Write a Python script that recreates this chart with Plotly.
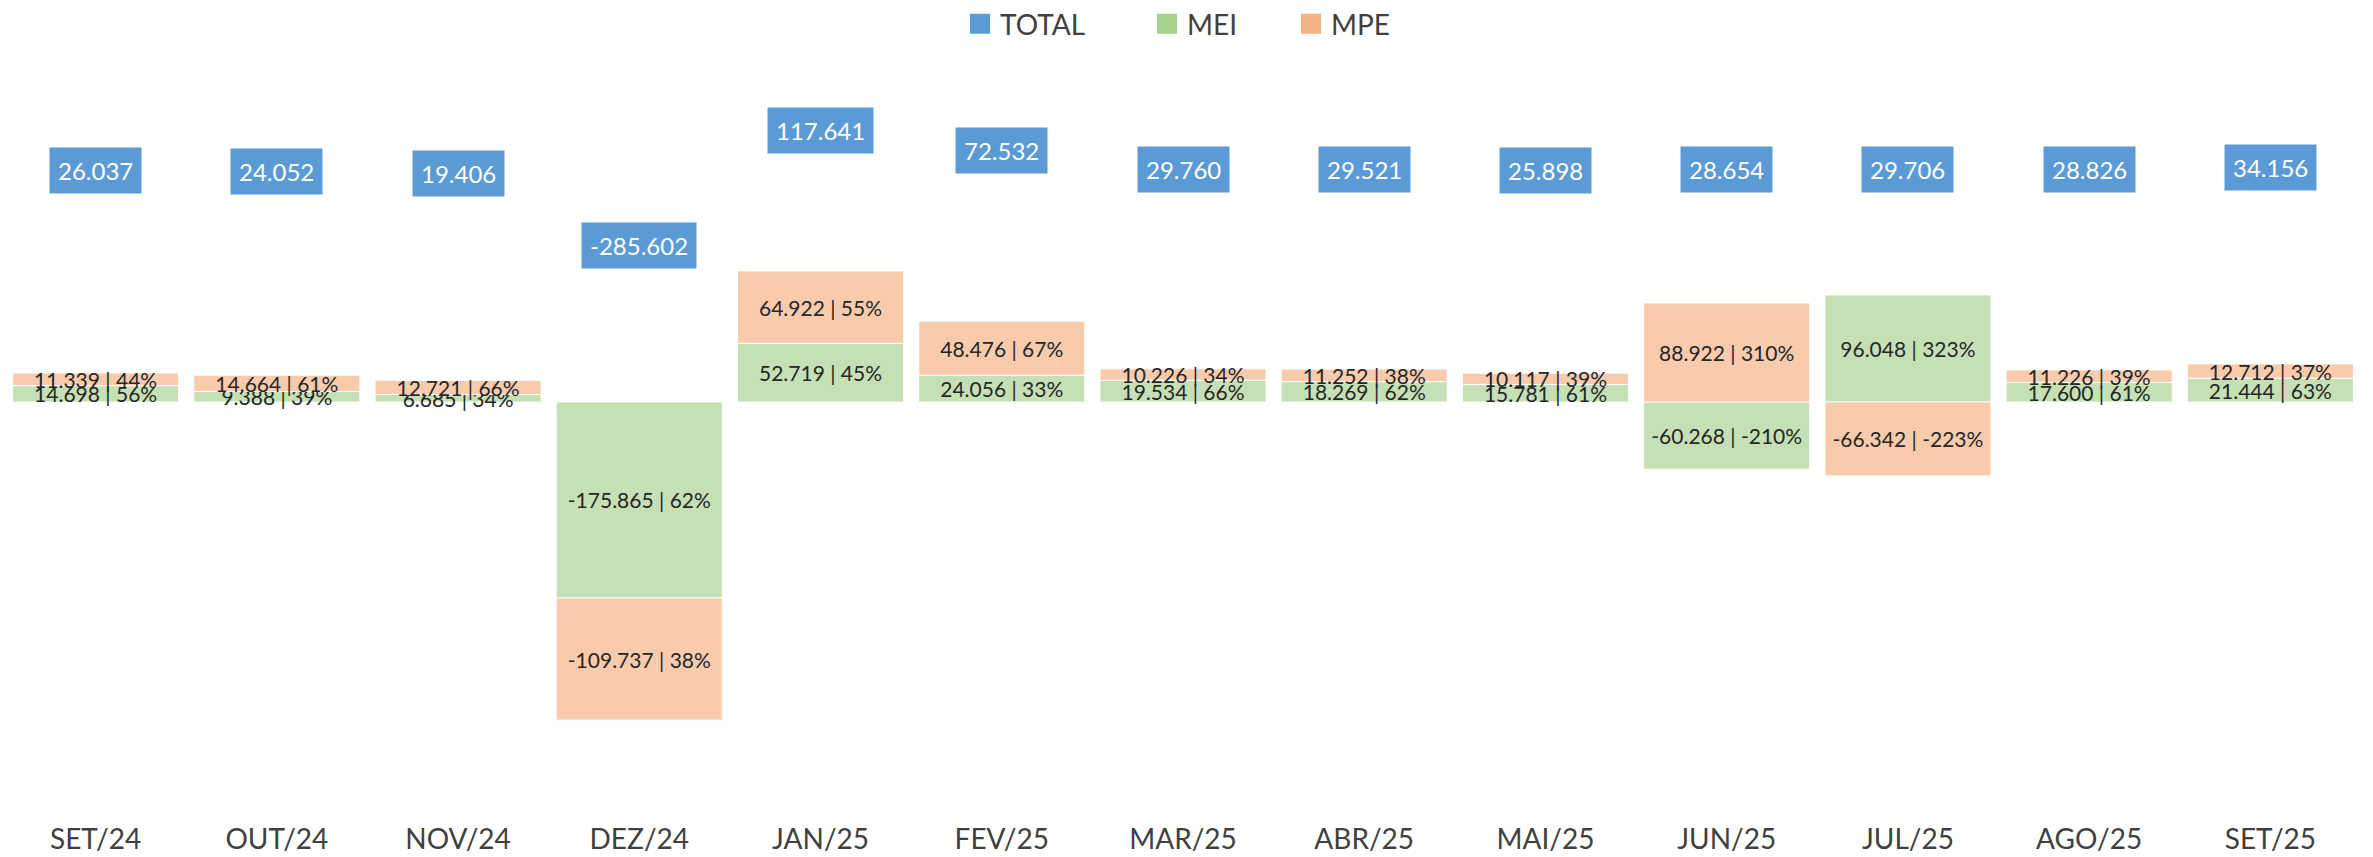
import plotly.graph_objects as go

categories = ["SET/24", "OUT/24", "NOV/24", "DEZ/24", "JAN/25", "FEV/25", "MAR/25",
              "ABR/25", "MAI/25", "JUN/25", "JUL/25", "AGO/25", "SET/25"]
total = [26037, 24052, 19406, -285602, 117641, 72532, 29760, 29521, 25898, 28654, 29706, 28826, 34156]
mei = [14698, 9388, 6685, -175865, 52719, 24056, 19534, 18269, 15781, -60268, 96048, 17600, 21444]
mpe = [11339, 14664, 12721, -109737, 64922, 48476, 10226, 11252, 10117, 88922, -66342, 11226, 12712]
mei_pct = [56, 39, 34, 62, 45, 33, 66, 62, 61, -210, 323, 61, 63]
mpe_pct = [44, 61, 66, 38, 55, 67, 34, 38, 39, 310, -223, 39, 37]

FONT = "Lato"
C_TOTAL = "#5B9BD5"
C_MEI_BAR = "#C5E0B4"
C_MPE_BAR = "#F8CBAD"
C_MEI_LEG = "#A9D18E"
C_MPE_LEG = "#F4B183"


def fmt(v):
    return f"{v:,}".replace(",", ".")


mei_text = [f"{fmt(v)} | {p}%" for v, p in zip(mei, mei_pct)]
mpe_text = [f"{fmt(v)} | {p}%" for v, p in zip(mpe, mpe_pct)]

W, H = 2373, 857
T, B = 60, 812
zero1, s1 = 402, 0.001114
zero2, s2 = 151.3, 0.000437
y1_range = [-(B - zero1) / s1, (zero1 - T) / s1]
y2_range = [-(B - zero2) / s2, (zero2 - T) / s2]

fig = go.Figure()

bar_common = dict(
    textposition="inside", insidetextanchor="middle", textangle=0,
    textfont=dict(family=FONT, size=21, color="#262626"),
    showlegend=False, cliponaxis=False,
)
fig.add_trace(go.Bar(x=categories, y=mei, name="MEI", text=mei_text,
                     marker=dict(color=C_MEI_BAR, line=dict(color="rgba(255,255,255,0.9)", width=1)),
                     **bar_common))
fig.add_trace(go.Bar(x=categories, y=mpe, name="MPE", text=mpe_text,
                     marker=dict(color=C_MPE_BAR, line=dict(color="rgba(255,255,255,0.9)", width=1)),
                     **bar_common))

# legend entries, each in its own legend box
legend_items = [("TOTAL", C_TOTAL, "legend", 960), ("MEI", C_MEI_LEG, "legend2", 1147),
                ("MPE", C_MPE_LEG, "legend3", 1291)]
legend_layout = {}
for name, col, lg, xpx in legend_items:
    fig.add_trace(go.Scatter(x=[None], y=[None], mode="markers", name=name, legend=lg,
                             marker=dict(symbol="square", size=16, color=col,
                                         line=dict(color=col, width=4))))
    legend_layout[lg] = dict(xref="container", yref="container", x=xpx / W, xanchor="left",
                             y=1 - 24 / H, yanchor="middle", bgcolor="rgba(0,0,0,0)",
                             font=dict(family=FONT, size=28, color="#404040"),
                             itemsizing="trace")

# TOTAL labels on secondary axis
for c, v in zip(categories, total):
    fig.add_annotation(x=c, y=v, xref="x", yref="y2", text=fmt(v), showarrow=False,
                       font=dict(family=FONT, size=24, color="white"),
                       bgcolor=C_TOTAL, borderpad=8,
                       yshift=-31 if v > 0 else 31)

fig.update_layout(
    width=W, height=H,
    barmode="relative", bargap=0.084,
    plot_bgcolor="white", paper_bgcolor="white",
    margin=dict(l=5, r=12, t=T, b=H - B, autoexpand=False),
    font=dict(family=FONT, color="#404040"),
    uniformtext=dict(mode="show", minsize=21),
    xaxis=dict(showgrid=False, showline=False, zeroline=False, ticks="",
               ticklabelstandoff=8,
               tickfont=dict(family=FONT, size=28, color="#404040")),
    yaxis=dict(range=y1_range, showgrid=False, zeroline=False, showticklabels=False),
    yaxis2=dict(range=y2_range, overlaying="y", showgrid=False, zeroline=False,
                showticklabels=False, side="right"),
    **legend_layout,
)

fig.write_html("out.html", config={"displayModeBar": False},
               post_script="document.body.style.margin='0';document.body.style.padding='0';")
